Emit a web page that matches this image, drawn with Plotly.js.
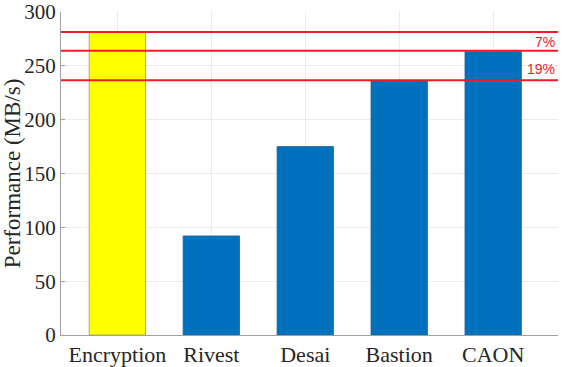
<!DOCTYPE html>
<html>
<head>
<meta charset="utf-8">
<script src="https://cdn.plot.ly/plotly-3.0.1.min.js"></script>
<style>html,body{margin:0;padding:0;background:#fff;}#chart{width:564px;height:367px;}</style>
</head>
<body>
<div id="chart"></div>
<script>
const categories = ["Encryption", "Rivest", "Desai", "Bastion", "CAON"];
const performance = [281.5, 92, 175, 236, 263];
const barColors = ["#FFFF00", "#0072BD", "#0072BD", "#0072BD", "#0072BD"];
const refLines = [281.5, 264, 236.5];
const gapLabels = ["7%", "19%"];
const gapLabelY = [272.5, 247];
const yTicks = [0, 50, 100, 150, 200, 250, 300];

const trace = {
  type: "bar",
  x: categories,
  y: performance,
  width: 0.6,
  marker: {color: barColors, line: {color: ["#9a9a50", "#1f5f95", "#1f5f95", "#1f5f95", "#1f5f95"], width: 0.8}},
  hoverinfo: "none"
};

const shapes = refLines.map(v => ({
  type: "line", xref: "paper", yref: "y", x0: 0, x1: 1, y0: v, y1: v,
  line: {color: "#EE1C25", width: 2}
}));

const annotations = gapLabels.map((t, i) => ({
  text: t, xref: "paper", yref: "y", x: 0.997, y: gapLabelY[i],
  xanchor: "right", yanchor: "middle", showarrow: false,
  font: {family: "Liberation Sans, Arial, sans-serif", size: 14, color: "#EE1C25"}
}));

const layout = {
  width: 564, height: 367,
  margin: {l: 61, r: 6, t: 12, b: 32},
  paper_bgcolor: "#fff", plot_bgcolor: "#fff",
  showlegend: false,
  font: {family: "Liberation Serif, Times New Roman, serif", size: 22, color: "#262626"},
  xaxis: {
    type: "category", range: [-0.6, 4.69],
    showgrid: true, gridcolor: "#ebebeb", gridwidth: 1,
    showline: true, linecolor: "#a0a0a0", linewidth: 1,
    ticks: "", tickfont: {size: 22}, zeroline: false, automargin: false
  },
  yaxis: {
    range: [0, 300], tickvals: yTicks, ticktext: yTicks.map(String),
    showgrid: true, gridcolor: "#ebebeb", gridwidth: 1,
    showline: true, linecolor: "#a0a0a0", linewidth: 1,
    ticks: "inside", ticklen: 4, tickcolor: "#a0a0a0",
    tickfont: {size: 21}, zeroline: false, automargin: false,
    ticklabeloverflow: "allow",
    title: {text: "Performance (MB/s)", font: {size: 23}, standoff: 4}
  },
  shapes: shapes,
  annotations: annotations
};

Plotly.newPlot("chart", [trace], layout, {displayModeBar: false, staticPlot: true});
</script>
</body>
</html>
